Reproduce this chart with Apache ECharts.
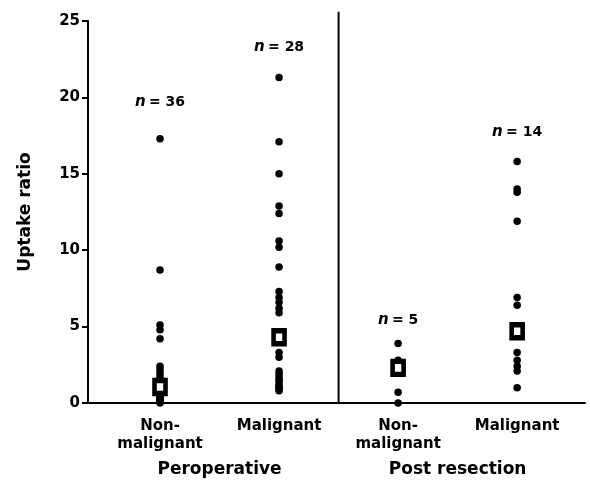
<!DOCTYPE html>
<html>
<head>
<meta charset="utf-8">
<script src="https://cdn.jsdelivr.net/npm/echarts@6/dist/echarts.min.js"></script>
<style>html,body{margin:0;padding:0;background:#fff}#c{width:590px;height:484px}</style>
</head>
<body>
<div id="c"></div>
<script>
// ---- data ----
var categories = ['Non-\nmalignant', 'Malignant', 'Non-\nmalignant', 'Malignant'];
var groups = ['Peroperative', 'Post resection'];
var groupCentres = [0.5, 2.5];
var periNonMalignant = [17.3, 8.7, 5.1, 4.8, 4.2, 2.4, 2.2, 2.0, 1.8, 1.6, 1.5, 1.4, 1.3, 1.2, 1.1, 1.0, 1.0, 0.9, 0.9, 0.8, 0.8, 0.7, 0.7, 0.6, 0.6, 0.5, 0.5, 0.4, 0.4, 0.3, 0.3, 0.2, 0.2, 0.1, 0.1, 0.0];
var periMalignant = [21.3, 17.1, 15.0, 12.9, 12.4, 10.6, 10.2, 8.9, 7.3, 6.9, 6.6, 6.2, 5.9, 4.6, 4.3, 4.0, 3.3, 3.0, 2.1, 1.9, 1.7, 1.5, 1.4, 1.2, 1.1, 1.0, 0.9, 0.8];
var postNonMalignant = [3.9, 2.8, 2.3, 0.7, 0.0];
var postMalignant = [15.8, 14.0, 13.8, 11.9, 6.9, 6.4, 5.0, 4.8, 4.5, 3.3, 2.8, 2.4, 2.1, 1.0];
var medians = [1.05, 4.3, 2.3, 4.7];
var nCounts = [36, 28, 5, 14];
var nLabelLevels = [19.7, 23.3, 5.4, 17.7];
var yTicks = [0, 5, 10, 15, 20, 25];
var dividerAt = 1.5;
var dividerTop = 25.6;

var allGroups = [periNonMalignant, periMalignant, postNonMalignant, postMalignant];
var pointData = [];
allGroups.forEach(function (arr, i) { arr.forEach(function (v) { pointData.push([i, v]); }); });
var medianData = medians.map(function (v, i) { return [i, v]; });
var nData = nCounts.map(function (n, i) { return { value: [i, nLabelLevels[i]], n: n }; });
var dividerData = [[dividerAt, 0], [dividerAt, dividerTop]];

var FONT = 'DejaVu Sans';
var chart = echarts.init(document.getElementById('c'), null, { renderer: 'canvas' });
chart.setOption({
  animation: false,
  backgroundColor: '#fff',
  grid: { left: 88, right: 5, top: 21, bottom: 81 },
  xAxis: [{
    type: 'value', min: -0.605, max: 3.57,
    axisLine: { show: true, onZero: false, lineStyle: { color: '#000', width: 2 } },
    axisTick: { show: false },
    splitLine: { show: false },
    axisLabel: {
      customValues: [0, 1, 2, 3],
      formatter: function (v) { return categories[Math.round(v)]; },
      color: '#000', fontFamily: FONT, fontWeight: 'bold', fontSize: 15,
      lineHeight: 18, margin: 14
    }
  }, {
    type: 'value', min: -0.605, max: 3.57, position: 'bottom', offset: 50,
    axisLine: { show: false, onZero: false }, axisTick: { show: false }, splitLine: { show: false },
    axisLabel: {
      customValues: groupCentres,
      formatter: function (v) { return groups[groupCentres.indexOf(v)]; },
      color: '#000', fontFamily: FONT, fontWeight: 'bold', fontSize: 17, margin: 8
    }
  }],
  yAxis: {
    type: 'value', min: 0, max: 25, interval: 5,
    name: 'Uptake ratio', nameLocation: 'middle', nameGap: 54,
    nameTextStyle: { color: '#000', fontFamily: FONT, fontWeight: 'bold', fontSize: 17 },
    axisLine: { show: true, onZero: false, lineStyle: { color: '#000', width: 2 } },
    axisTick: { show: true, length: 6, lineStyle: { color: '#000', width: 2 } },
    splitLine: { show: false },
    axisLabel: {
      customValues: yTicks,
      color: '#000', fontFamily: FONT, fontWeight: 'bold', fontSize: 15, margin: 8
    }
  },
  series: [{
    type: 'line', data: dividerData, symbol: 'none', clip: false, silent: true,
    lineStyle: { color: '#000', width: 2, opacity: 1 }, z: 1
  }, {
    type: 'scatter', data: pointData, symbol: 'circle', symbolSize: 7.5,
    itemStyle: { color: '#000', opacity: 1 }, clip: false, z: 2
  }, {
    type: 'scatter', data: medianData, symbol: 'rect', symbolSize: [11, 13],
    itemStyle: { color: '#fff', borderColor: '#000', borderWidth: 5, opacity: 1 }, z: 3
  }, {
    type: 'scatter', data: nData, symbolSize: 0, clip: false,
    itemStyle: { opacity: 1 },
    label: {
      show: true, position: 'inside',
      formatter: function (p) { return '{i|n} {b|= ' + p.data.n + '}'; },
      rich: {
        i: { fontFamily: FONT, fontStyle: 'italic', fontWeight: 'bold', fontSize: 15, color: '#000' },
        b: { fontFamily: FONT, fontWeight: 'bold', fontSize: 14, color: '#000' }
      }
    }
  }]
});
</script>
</body>
</html>
